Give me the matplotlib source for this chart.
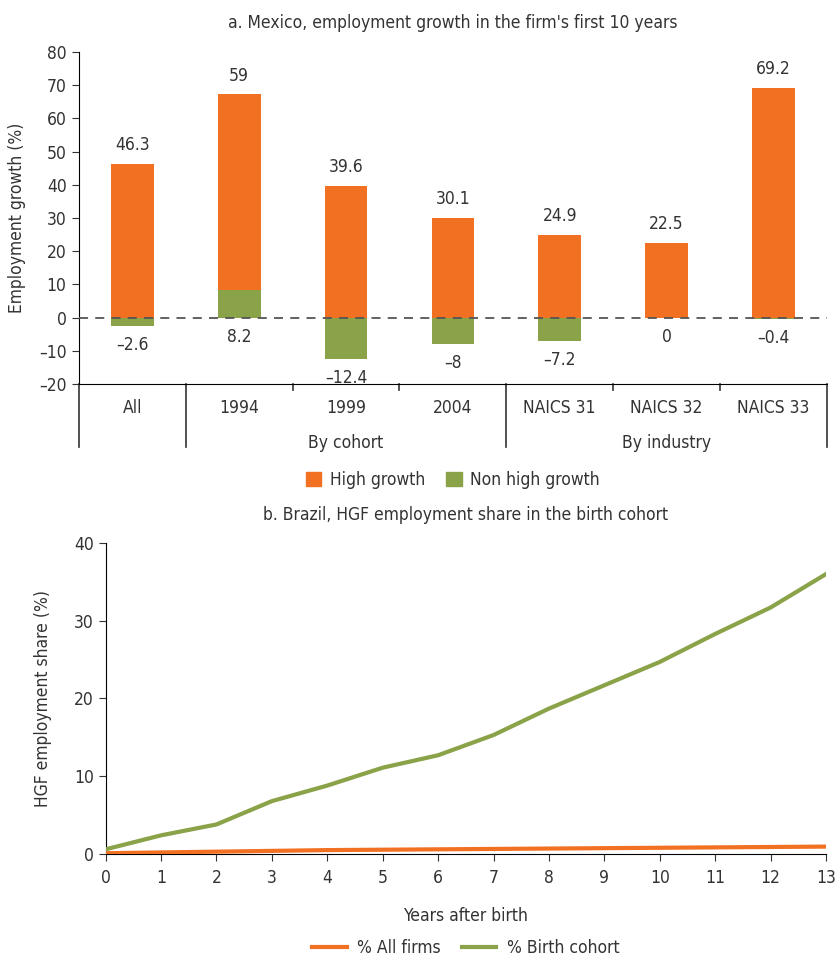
import matplotlib
matplotlib.use("Agg")
import matplotlib.pyplot as plt
import numpy as np
from matplotlib.patches import Patch

plt.rcParams['font.family'] = ['DejaVu Sans']
plt.rcParams['font.stretch'] = 'condensed'
plt.rcParams['font.size'] = 12.5
plt.rcParams['text.color'] = '#333333'
plt.rcParams['axes.labelcolor'] = '#333333'
plt.rcParams['xtick.color'] = '#333333'
plt.rcParams['ytick.color'] = '#333333'

ORANGE = '#F27022'
GREEN = '#8AA248'

# panel a data
categories = ['All', '1994', '1999', '2004', 'NAICS 31', 'NAICS 32', 'NAICS 33']
high_growth = [46.3, 59, 39.6, 30.1, 24.9, 22.5, 69.2]
non_high_growth = [-2.6, 8.2, -12.4, -8, -7.2, 0, -0.4]
groups = [('By cohort', 1, 3), ('By industry', 4, 6)]

# panel b data
years = list(range(14))
all_firms = [0.1, 0.2, 0.3, 0.4, 0.5, 0.55, 0.6, 0.65, 0.7, 0.75, 0.8, 0.85, 0.9, 0.95]
birth_cohort = [0.6, 2.4, 3.8, 6.8, 8.8, 11.1, 12.7, 15.3, 18.7, 21.7, 24.7, 28.3, 31.7, 36.0]

FS = 12.5


def fmt(v):
    s = f"{v:g}"
    return s.replace('-', '\u2013')


fig = plt.figure(figsize=(8.36, 9.59), dpi=100)

# ---------- panel a ----------
ax = fig.add_axes([0.0945, 0.5996, 0.8945, 0.3462])
x = np.arange(len(categories))
w = 0.4
base = [max(0, g) for g in non_high_growth]
ax.bar(x, non_high_growth, width=w, color=GREEN, zorder=2)
ax.bar(x, high_growth, width=w, bottom=base, color=ORANGE, zorder=2)
ax.axhline(0, color='#555555', lw=1.3, ls=(0, (5, 4)), zorder=3)

for i in range(len(categories)):
    top = base[i] + high_growth[i]
    ax.text(x[i], top + 3, fmt(high_growth[i]), ha='center', va='bottom', fontsize=FS)
    low = min(0, non_high_growth[i])
    ax.text(x[i], low - 3, fmt(non_high_growth[i]), ha='center', va='top', fontsize=FS)

ax.set_xlim(-0.5, len(categories) - 0.5)
ax.set_ylim(-20, 80)
ax.set_yticks(range(-20, 81, 10))
ax.set_yticklabels([fmt(v) for v in range(-20, 81, 10)])
ax.set_xticks(x)
ax.set_xticklabels(categories, fontsize=FS)
ax.tick_params(axis='x', length=0, pad=11)
ax.tick_params(axis='y', length=5, pad=4, labelsize=FS)
ax.spines['top'].set_visible(False)
ax.spines['right'].set_visible(False)
ax.set_ylabel('Employment growth (%)', fontsize=FS, labelpad=9)
ax.set_title("a. Mexico, employment growth in the firm's first 10 years", fontsize=FS, pad=17)

# category separators below the axis
trans = ax.get_xaxis_transform()
long_seps = [-0.5, 0.5, 3.5, 6.5]
for s in np.arange(-0.5, len(categories), 1.0):
    depth = -0.19 if s in long_seps else -0.018
    ax.plot([s, s], [0, depth], color='#333333', lw=1.2, transform=trans, clip_on=False)
for name, a, b in groups:
    ax.text((a + b) / 2, -0.178, name, ha='center', va='center', transform=trans, fontsize=FS)

ax.legend(handles=[Patch(color=ORANGE, label='High growth'), Patch(color=GREEN, label='Non high growth')],
          loc='upper center', bbox_to_anchor=(0.5, -0.215), ncol=2, frameon=False, fontsize=FS,
          handlelength=0.9, handleheight=0.9, columnspacing=1.2, handletextpad=0.5)

# ---------- panel b ----------
bx = fig.add_axes([0.1264, 0.1095, 0.8616, 0.3243])
bx.plot(years, all_firms, color=ORANGE, lw=3, label='% All firms', zorder=3)
bx.plot(years, birth_cohort, color=GREEN, lw=3, label='% Birth cohort', zorder=3)
bx.set_xlim(0, 13)
bx.set_ylim(0, 40)
bx.set_xticks(years)
bx.set_yticks(range(0, 41, 10))
bx.tick_params(axis='both', length=5, labelsize=FS)
bx.tick_params(axis='x', pad=6)
bx.spines['top'].set_visible(False)
bx.spines['right'].set_visible(False)
bx.set_xlabel('Years after birth', fontsize=FS, labelpad=14)
bx.set_ylabel('HGF employment share (%)', fontsize=FS, labelpad=16)
bx.set_title('b. Brazil, HGF employment share in the birth cohort', fontsize=FS, pad=16.5)
bx.legend(loc='upper center', bbox_to_anchor=(0.5, -0.222), ncol=2, frameon=False, fontsize=FS,
          handlelength=2.0, columnspacing=1.2, handletextpad=0.6)

fig.savefig('out.png', dpi=100)
